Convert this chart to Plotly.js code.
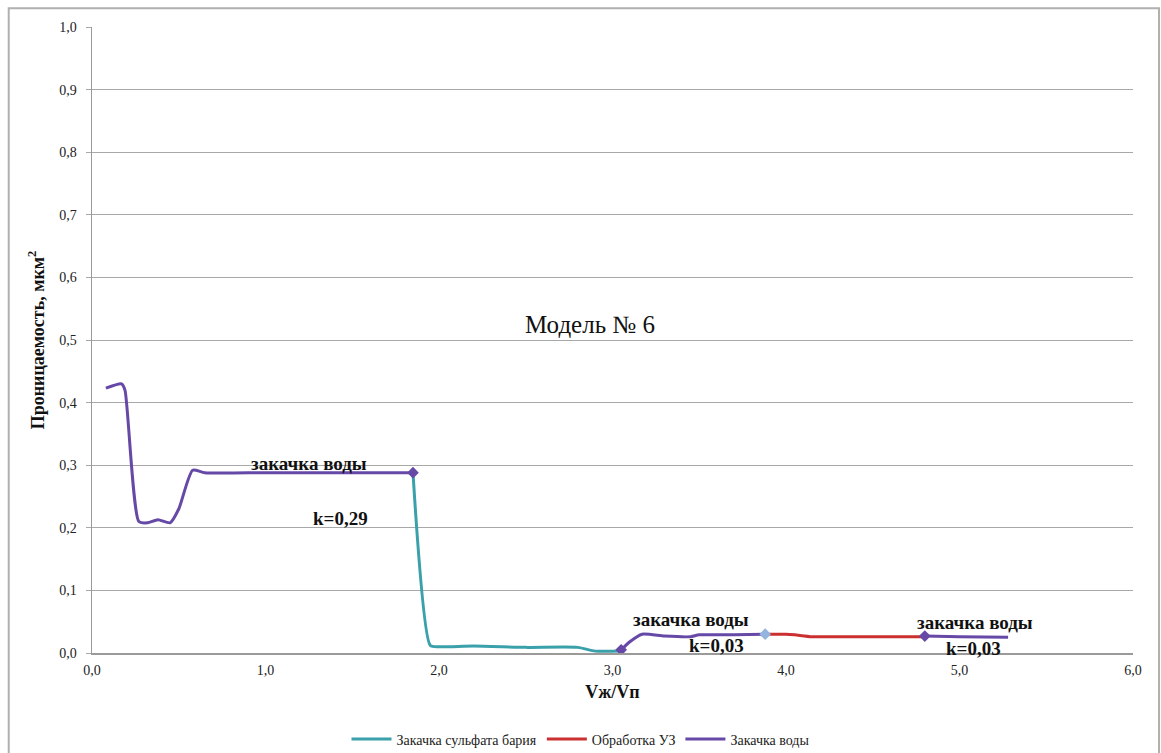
<!DOCTYPE html>
<html>
<head>
<meta charset="utf-8">
<script src="https://cdn.plot.ly/plotly-3.0.1.min.js"></script>
<style>
html,body{margin:0;padding:0;background:#fff;}
#chart{width:1161px;height:753px;}
</style>
</head>
<body>
<div id="chart"></div>
<script>
// Series: water injection (three stages, null = gap)
const waterX = [0.08, 0.17, 0.19, 0.27, 0.32, 0.38, 0.45, 0.50, 0.58, 0.65, 1.00, 1.50, 1.85, null, 3.05, 3.10, 3.17, 3.30, 3.45, 3.50, 3.70, 3.88, null, 4.80, 5.00, 5.28];
const waterY = [0.423, 0.430, 0.420, 0.210, 0.208, 0.213, 0.208, 0.230, 0.292, 0.288, 0.288, 0.288, 0.288, null, 0.005, 0.018, 0.030, 0.027, 0.026, 0.029, 0.029, 0.030, null, 0.027, 0.026, 0.025];
// Series: barium sulfate injection
const bariumX = [1.85, 1.95, 2.00, 2.20, 2.50, 2.80, 2.90, 3.05];
const bariumY = [0.288, 0.012, 0.010, 0.011, 0.009, 0.009, 0.003, 0.003];
// Series: ultrasonic treatment
const usX = [3.88, 4.00, 4.05, 4.15, 4.40, 4.80];
const usY = [0.030, 0.030, 0.029, 0.026, 0.026, 0.026];
// Marked points
const markX = [1.85, 3.05, 4.80];
const markY = [0.288, 0.005, 0.027];
const markLightX = [3.88];
const markLightY = [0.030];

const labels = [
  {text: 'закачка воды', x: 1.25, y: 0.302},
  {text: 'k=0,29', x: 1.43, y: 0.215},
  {text: 'закачка воды', x: 3.45, y: 0.053},
  {text: 'k=0,03', x: 3.60, y: 0.012},
  {text: 'закачка воды', x: 5.09, y: 0.048},
  {text: 'k=0,03', x: 5.08, y: 0.007}
];

const teal = '#3aa0aa', red = '#cc2f2f', purple = '#6648a6';
const font = 'Liberation Serif, DejaVu Serif';

const traces = [
  {x: bariumX, y: bariumY, name: 'Закачка сульфата бария', mode: 'lines',
   line: {color: teal, width: 3, shape: 'spline', smoothing: 0.6}},
  {x: usX, y: usY, name: 'Обработка УЗ', mode: 'lines',
   line: {color: red, width: 3, shape: 'spline', smoothing: 0.6}},
  {x: waterX, y: waterY, name: 'Закачка воды', mode: 'lines', connectgaps: false,
   line: {color: purple, width: 3, shape: 'spline', smoothing: 0.6}},
  {x: markX, y: markY, mode: 'markers', showlegend: false, hoverinfo: 'skip',
   marker: {symbol: 'diamond', size: 9, color: purple}},
  {x: markLightX, y: markLightY, mode: 'markers', showlegend: false, hoverinfo: 'skip',
   marker: {symbol: 'diamond', size: 9, color: '#93b4de'}}
];

const annotations = labels.map(l => ({
  x: l.x, y: l.y, xref: 'x', yref: 'y', text: '<b>' + l.text + '</b>', showarrow: false,
  font: {family: font, size: 19, color: '#111'}
}));
annotations.push({x: 2.87, y: 0.524, xref: 'x', yref: 'y', text: 'Модель № 6', showarrow: false,
  font: {family: font, size: 25, color: '#111'}});

const layout = {
  width: 1161, height: 753,
  margin: {l: 92, r: 28, t: 27, b: 100},
  paper_bgcolor: '#fff', plot_bgcolor: '#fff',
  separators: ',.',
  font: {family: font, size: 14, color: '#222'},
  showlegend: true,
  legend: {orientation: 'h', xref: 'container', yref: 'container', x: 0.5, xanchor: 'center', y: 0.018, yanchor: 'middle',
    itemwidth: 40, font: {family: font, size: 14, color: '#222'}},
  xaxis: {range: [0, 6], dtick: 1, tick0: 0, tickformat: '.1f', showgrid: false,
    zeroline: false, showline: true, linecolor: '#9a9a9a', linewidth: 1.5, automargin: false,
    ticks: '', ticklabelstandoff: 4,
    tickfont: {family: font, size: 14, color: '#222'},
    title: {text: '<b>Vж/Vп</b>', font: {family: font, size: 18, color: '#111'}, standoff: 8}},
  yaxis: {range: [0, 1.0], dtick: 0.1, tick0: 0, tickformat: '.1f', showgrid: true, automargin: false,
    gridcolor: '#a8a8a8', gridwidth: 1, zeroline: false, showline: true, linecolor: '#9a9a9a', linewidth: 1.5,
    ticks: 'outside', ticklen: 5, tickcolor: '#a8a8a8', ticklabelstandoff: 6,
    tickfont: {family: font, size: 14, color: '#222'},
    title: {text: '<b>Проницаемость, мкм<sup>2</sup></b>', font: {family: font, size: 18, color: '#111'}, standoff: 10}},
  annotations: annotations,
  shapes: [
    {type: 'rect', xref: 'paper', yref: 'paper', x0: -0.08, x1: 1.025, y0: -0.19, y1: 1.03,
     line: {color: '#b0b0b0', width: 2}, fillcolor: 'rgba(0,0,0,0)', layer: 'below'}
  ]
};

Plotly.newPlot('chart', traces, layout, {displayModeBar: false, staticPlot: true});
</script>
</body>
</html>
